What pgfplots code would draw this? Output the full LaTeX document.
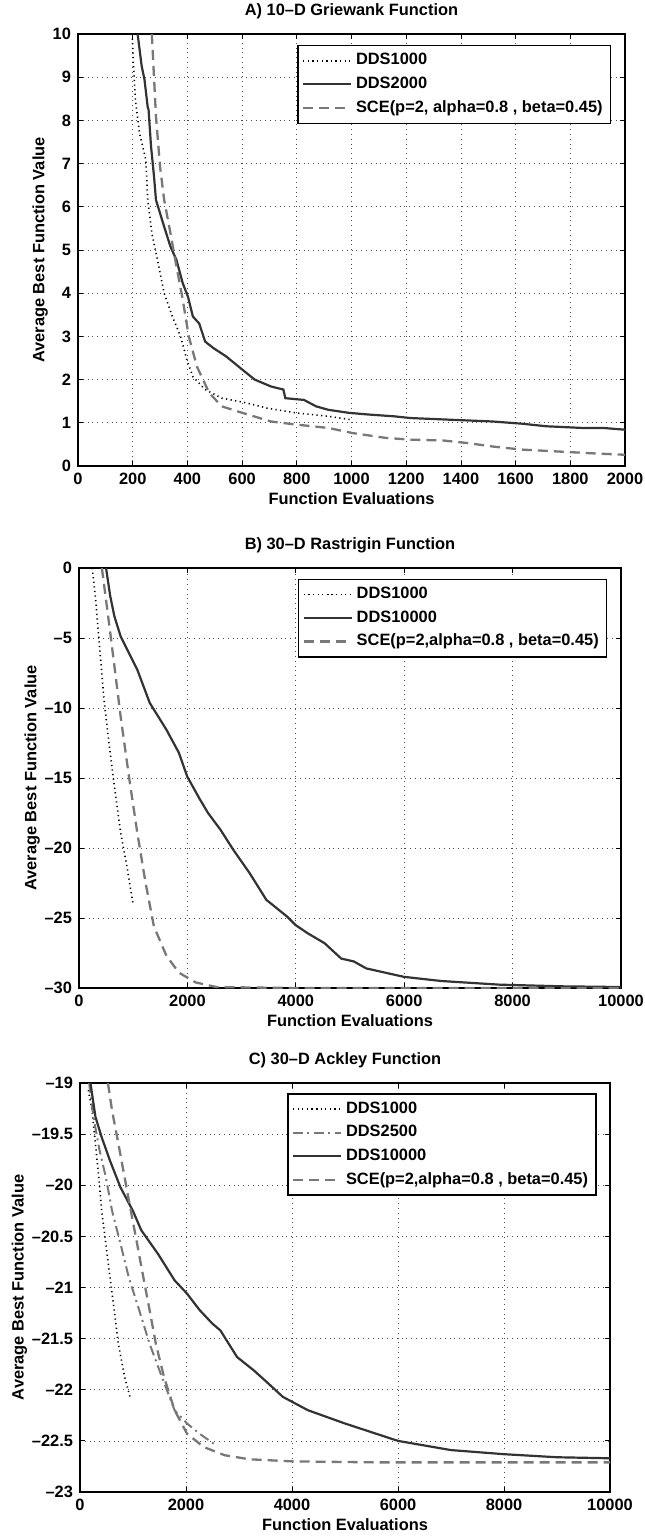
\documentclass[border=0pt]{standalone}
\usepackage{fontspec}
\setmainfont{Liberation Sans}
\usepackage{pgfplots}
\pgfplotsset{compat=1.18}

\definecolor{dkline}{gray}{0.2}
\definecolor{gyline}{gray}{0.47}

\newcommand{\mfont}{\fontsize{8.2}{9.5}\selectfont\bfseries}

\pgfplotsset{
  mlab/.style={
    scale only axis,
    font=\mfont,
    tick label style={font=\mfont},
    label style={font=\mfont},
    title style={font=\mfont, yshift=-2pt},
    /pgf/number format/assume math mode=true,
    /pgf/number format/1000 sep={},
    scaled x ticks=false,
    tick align=inside,
    major tick length=2.5pt,
    grid=major,
    major grid style={black!70, line width=0.35pt, dash pattern=on 0.4pt off 2pt},
    axis line style={line width=0.6pt},
    every tick/.style={black, line width=0.4pt},
    xlabel={Function Evaluations},
    ylabel={Average Best Function Value},
    xlabel style={yshift=3pt},
    ylabel style={yshift=-4.5pt},
    legend cell align=left,
    legend style={draw=black, line width=0.7pt, font=\mfont,
      inner sep=2pt, row sep=0.5pt, at={(0.975,0.975)}, anchor=north east},
    legend image post style={xscale=1.4},
  },
  ddsdot/.style={black, line width=0.8pt, dash pattern=on 0.6pt off 1.7pt},
  ddssolid/.style={dkline, line width=1.1pt},
  scedash/.style={gyline, line width=1.15pt, dash pattern=on 5pt off 3pt},
  ddsdashdot/.style={gyline, line width=1pt, dash pattern=on 5pt off 2.2pt on 1pt off 2.2pt},
}

\begin{document}
\begin{tikzpicture}
% page frame: 644 x 1536 px at 2 px per pt
\useasboundingbox (0pt,0pt) rectangle (322pt,-768pt);

% A) Griewank
\begin{axis}[mlab,
  at={(39pt,-233pt)}, anchor=south west,
  width=273.5pt, height=216pt,
  title={A) 10--D Griewank Function},
  xmin=0, xmax=2000, ymin=0, ymax=10,
  xtick={0,200,...,2000}, ytick={0,1,...,10},
]
\addplot[ddsdot] coordinates {
(198,10) (203,9.25) (210,8.47) (225,7.7) (248,7.09) (255,6.16) (270,5.39)
(293,4.7) (315,4.0) (345,3.46) (375,3.0) (398,2.46) (420,2.07) (465,1.77)
(526,1.57) (616,1.46) (691,1.34) (796,1.23) (916,1.15) (1000,1.07)};
\addlegendentry{DDS1000}
\addplot[ddssolid] coordinates {
(218,10) (233,9.25) (243,8.95) (255,8.3) (258,8.25) (267,7.4) (278,6.7) (285,6.16)
(300,5.85) (315,5.54) (338,5.08) (360,4.77) (383,4.23) (402,3.92) (420,3.46)
(443,3.3) (465,2.88) (495,2.73) (541,2.54) (601,2.23) (646,2.0) (706,1.84)
(751,1.77) (758,1.57) (826,1.53) (871,1.38) (916,1.30) (991,1.23) (1066,1.19)
(1156,1.15) (1216,1.11) (1366,1.07) (1517,1.03) (1622,0.98) (1712,0.92)
(1847,0.88) (1922,0.88) (2000,0.84)};
\addlegendentry{DDS2000}
\addplot[scedash] coordinates {
(270,10) (285,8.1) (300,6.93) (315,6.16) (338,5.39) (360,4.62) (383,3.85)
(405,3.0) (435,2.3) (480,1.69) (526,1.38) (601,1.23) (706,1.03) (796,0.96)
(916,0.88) (1006,0.76) (1126,0.65) (1216,0.61) (1336,0.59) (1426,0.53)
(1517,0.45) (1622,0.38) (1742,0.34) (1892,0.29) (2000,0.26)};
\addlegendentry{SCE(p=2, alpha=0.8 , beta=0.45)}
\end{axis}

% B) Rastrigin
\begin{axis}[mlab,
  at={(39.5pt,-494pt)}, anchor=south west,
  width=271pt, height=210pt,
  title={B) 30--D Rastrigin Function},
  xmin=0, xmax=10000, ymin=-30, ymax=0,
  xtick={0,2000,...,10000},
  ytick={-30,-25,-20,-15,-10,-5,0},
  yticklabels={--30,--25,--20,--15,--10,--5,0},
]
\addplot[ddsdot] coordinates {
(246,0) (307,-2.26) (384,-5.83) (461,-9.4) (553,-12.5) (653,-15.6)
(768,-18.9) (883,-21.3) (998,-24.0)};
\addlegendentry{DDS1000}
\addplot[ddssolid] coordinates {
(499,0) (576,-2.0) (653,-3.45) (768,-4.88) (922,-6.07) (1075,-7.26) (1306,-9.64)
(1613,-11.55) (1843,-13.2) (1997,-14.9) (2227,-16.5) (2381,-17.5) (2611,-18.7)
(2842,-20.1) (3149,-21.8) (3456,-23.7) (3840,-24.9) (3994,-25.5) (4224,-26.1)
(4531,-26.8) (4839,-27.9) (5069,-28.1) (5300,-28.6) (5991,-29.2) (6682,-29.5)
(7757,-29.76) (8909,-29.88) (10000,-29.93)};
\addlegendentry{DDS10000}
\addplot[scedash] coordinates {
(422,0) (538,-3.45) (653,-7.0) (768,-10.6) (922,-14.9) (1075,-18.9)
(1229,-22.5) (1382,-25.6) (1613,-27.7) (1843,-28.9) (2150,-29.6)
(2534,-29.93) (3917,-30) (10000,-30)};
\addlegendentry{SCE(p=2,alpha=0.8 , beta=0.45)}
\end{axis}

% C) Ackley
\begin{axis}[mlab,
  at={(40pt,-746pt)}, anchor=south west,
  width=265pt, height=204.5pt,
  title={C) 30--D Ackley Function},
  xmin=0, xmax=10000, ymin=-23, ymax=-19,
  xtick={0,2000,...,10000},
  ytick={-23,-22.5,-22,-21.5,-21,-20.5,-20,-19.5,-19},
  yticklabels={--23,--22.5,--22,--21.5,--21,--20.5,--20,--19.5,--19},
]
\addplot[ddsdot] coordinates {
(157,-19.07) (228,-19.27) (291,-19.59) (354,-19.92) (409,-20.25) (487,-20.57)
(566,-20.9) (645,-21.22) (723,-21.55) (841,-21.87) (943,-22.07)};
\addlegendentry{DDS1000}
\addplot[ddsdashdot] coordinates {
(173,-19) (252,-19.33) (370,-19.66) (487,-19.92) (605,-20.25) (763,-20.57)
(920,-20.9) (1116,-21.22) (1313,-21.55) (1549,-21.88) (1785,-22.2)
(2020,-22.33) (2256,-22.43) (2531,-22.53)};
\addlegendentry{DDS2500}
\addplot[ddssolid] coordinates {
(197,-19) (291,-19.33) (409,-19.53) (566,-19.76) (763,-20.02) (998,-20.25)
(1156,-20.44) (1470,-20.67) (1785,-20.93) (2020,-21.06) (2256,-21.22)
(2492,-21.35) (2649,-21.42) (2964,-21.68) (3278,-21.81) (3514,-21.92)
(3829,-22.07) (4300,-22.20) (5000,-22.33) (6000,-22.5) (7000,-22.59)
(8000,-22.63) (9000,-22.66) (10000,-22.67)};
\addlegendentry{DDS10000}
\addplot[scedash] coordinates {
(527,-19) (605,-19.27) (723,-19.59) (841,-19.92) (959,-20.25) (1077,-20.57)
(1195,-20.9) (1313,-21.22) (1431,-21.55) (1588,-21.88) (1785,-22.2)
(2020,-22.43) (2335,-22.56) (2728,-22.64) (3200,-22.68) (3986,-22.70)
(5558,-22.71) (10000,-22.71)};
\addlegendentry{SCE(p=2,alpha=0.8 , beta=0.45)}
\end{axis}

\end{tikzpicture}
\end{document}
